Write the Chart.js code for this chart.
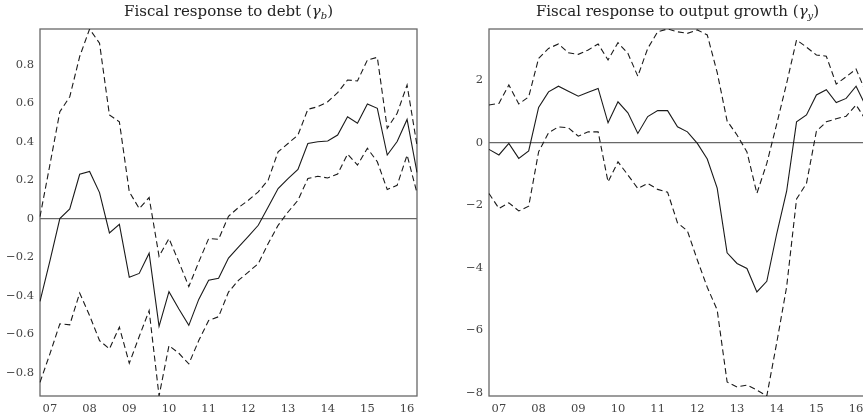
<!DOCTYPE html>
<html>
<head>
<meta charset="utf-8">
<script src="https://cdn.jsdelivr.net/npm/chart.js@4.4.1/dist/chart.umd.min.js"></script>
<style>
  html, body { margin: 0; padding: 0; background: #fff; }
  body { width: 863px; height: 420px; overflow: hidden; position: relative; }
  .panel { position: absolute; top: 0; }
  .panel canvas { display: block; }
  .title {
    position: absolute; top: 2px; white-space: nowrap;
    font-family: 'DejaVu Serif', serif; font-size: 15px; color: #222;
    transform: translateX(-50%);
  }
  .title sub { font-size: 10px; vertical-align: -3px; line-height: 0; }
</style>
</head>
<body>
<div class="panel" style="left:0px"><canvas id="debtChart" width="431" height="420"></canvas></div>
<div class="panel" style="left:431px"><canvas id="growthChart" width="440" height="420"></canvas></div>
<div class="title" style="left:228.5px">Fiscal response to debt (<i>γ</i><sub><i>b</i></sub>)</div>
<div class="title" style="left:677.5px">Fiscal response to output growth (<i>γ</i><sub><i>y</i></sub>)</div>
<script>
// Quarters, 2006Q4 through 2016Q2
const quarters = [
  '2006Q4',
  '2007Q1','2007Q2','2007Q3','2007Q4',
  '2008Q1','2008Q2','2008Q3','2008Q4',
  '2009Q1','2009Q2','2009Q3','2009Q4',
  '2010Q1','2010Q2','2010Q3','2010Q4',
  '2011Q1','2011Q2','2011Q3','2011Q4',
  '2012Q1','2012Q2','2012Q3','2012Q4',
  '2013Q1','2013Q2','2013Q3','2013Q4',
  '2014Q1','2014Q2','2014Q3','2014Q4',
  '2015Q1','2015Q2','2015Q3','2015Q4',
  '2016Q1','2016Q2'
];

// Response to debt: posterior median and bands
const debtMean = [
  -0.43, -0.22, 0.00, 0.05, 0.23, 0.245, 0.135, -0.075, -0.03,
  -0.305, -0.285, -0.18, -0.56, -0.38, -0.47, -0.555, -0.42,
  -0.32, -0.31, -0.205, -0.148, -0.092, -0.035, 0.06, 0.156,
  0.208, 0.255, 0.39, 0.399, 0.403, 0.434, 0.529, 0.495,
  0.595, 0.573, 0.33, 0.40, 0.515, 0.24
];
const debtUpper = [
  0.01, 0.28, 0.555, 0.633, 0.842, 0.985, 0.911, 0.538, 0.503,
  0.139, 0.052, 0.109, -0.196, -0.104, -0.226, -0.353, -0.226,
  -0.104, -0.108, 0.012, 0.057, 0.095, 0.139, 0.20, 0.347,
  0.39, 0.434, 0.568, 0.581, 0.607, 0.654, 0.72, 0.715,
  0.824, 0.838, 0.469, 0.547, 0.694, 0.38
];
const debtLower = [
  -0.851, -0.703, -0.547, -0.552, -0.387, -0.504, -0.634, -0.677, -0.564,
  -0.752, -0.613, -0.478, -0.922, -0.66, -0.70, -0.755, -0.634,
  -0.53, -0.51, -0.382, -0.321, -0.278, -0.234, -0.13, -0.035,
  0.034, 0.095, 0.208, 0.22, 0.211, 0.231, 0.335, 0.278,
  0.365, 0.295, 0.151, 0.173, 0.33, 0.133
];

// Response to output growth: posterior median and bands
const growthMean = [
  -0.21, -0.39, -0.02, -0.50, -0.26, 1.13, 1.63, 1.81, 1.65,
  1.49, 1.62, 1.74, 0.64, 1.31, 0.96, 0.30, 0.84,
  1.03, 1.03, 0.51, 0.35, -0.02, -0.52, -1.45, -3.52,
  -3.86, -4.02, -4.77, -4.43, -2.91, -1.55, 0.67, 0.89,
  1.53, 1.70, 1.29, 1.42, 1.81, 1.16
];
const growthUpper = [
  1.21, 1.26, 1.85, 1.24, 1.47, 2.70, 3.02, 3.16, 2.88,
  2.83, 2.97, 3.16, 2.65, 3.20, 2.86, 2.13, 3.02,
  3.55, 3.64, 3.55, 3.50, 3.61, 3.45, 2.25, 0.70,
  0.25, -0.29, -1.62, -0.66, 0.60, 1.90, 3.29, 3.06,
  2.81, 2.77, 1.88, 2.11, 2.36, 1.60
];
const growthLower = [
  -1.62, -2.10, -1.92, -2.18, -2.03, -0.29, 0.32, 0.51, 0.48,
  0.21, 0.35, 0.35, -1.25, -0.61, -1.03, -1.46, -1.30,
  -1.49, -1.58, -2.56, -2.82, -3.75, -4.62, -5.35, -7.65,
  -7.81, -7.75, -7.91, -8.10, -6.40, -4.61, -1.80, -1.30,
  0.37, 0.67, 0.77, 0.85, 1.21, 0.72
];

// Axis tick values
const debtTicks = [-0.8, -0.6, -0.4, -0.2, 0, 0.2, 0.4, 0.6, 0.8];
const growthTicks = [-8, -6, -4, -2, 0, 2];

const serif = "'DejaVu Serif', serif";
const lineColor = '#1a1a1a';
const frameColor = '#686868';

// Full box around the plotting area
const framePlugin = {
  id: 'frame',
  beforeDatasetsDraw(chart) {
    const { ctx, chartArea: a } = chart;
    ctx.save();
    ctx.strokeStyle = frameColor;
    ctx.lineWidth = 1.3;
    ctx.strokeRect(a.left, a.top, a.right - a.left, a.bottom - a.top);
    ctx.restore();
  }
};

function fmtTick(v) {
  const s = String(Math.round(v * 100) / 100);
  return s.replace('-', '\u2212');
}

function makeChart(id, mean, upper, lower, yTicks, yAxisWidth, padRight) {
  const all = mean.concat(upper, lower);
  const yMin = Math.min(...all);
  const yMax = Math.max(...all);
  const dashed = (data) => ({
    data, borderColor: lineColor, borderWidth: 1.1, borderDash: [6, 3.5],
    pointRadius: 0, tension: 0, fill: false
  });
  return new Chart(document.getElementById(id), {
    type: 'line',
    data: {
      labels: quarters,
      datasets: [
        dashed(upper),
        dashed(lower),
        { data: mean, borderColor: lineColor, borderWidth: 1.1,
          pointRadius: 0, tension: 0, fill: false }
      ]
    },
    options: {
      responsive: false,
      animation: false,
      events: [],
      layout: { padding: { top: 29, right: padRight, left: 0, bottom: 0 } },
      plugins: { legend: { display: false }, tooltip: { enabled: false }, title: { display: false } },
      scales: {
        x: {
          type: 'category',
          offset: false,
          border: { display: false },
          grid: { display: false, drawTicks: false },
          afterBuildTicks(scale) {
            scale.ticks = scale.ticks.filter(t => quarters[t.value].endsWith('Q1'));
          },
          afterFit(scale) { scale.height = 24; },
          ticks: {
            autoSkip: false, maxRotation: 0, padding: 6,
            color: '#444', font: { family: serif, size: 11.5 },
            callback: (v) => quarters[v].slice(2, 4)
          }
        },
        y: {
          min: yMin, max: yMax,
          border: { display: false },
          grid: {
            drawTicks: false,
            lineWidth: 1.3,
            color: (c) => (c.tick && c.tick.value === 0 ? frameColor : 'rgba(0,0,0,0)')
          },
          afterBuildTicks(scale) { scale.ticks = yTicks.map(v => ({ value: v })); },
          afterFit(scale) { scale.width = yAxisWidth; },
          ticks: {
            padding: 6, color: '#444', font: { family: serif, size: 11.5 },
            callback: (v) => fmtTick(v)
          }
        }
      }
    },
    plugins: [framePlugin]
  });
}

makeChart('debtChart', debtMean, debtUpper, debtLower, debtTicks, 40, 14);
makeChart('growthChart', growthMean, growthUpper, growthLower, growthTicks, 58, 5);
</script>
</body>
</html>
